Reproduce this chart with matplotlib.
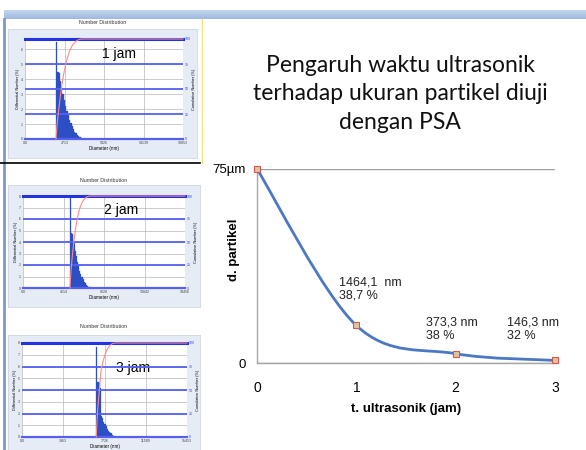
import numpy as np
import matplotlib.pyplot as plt
from matplotlib.path import Path
from matplotlib.patches import PathPatch

# data: main chart (plotted position of the points, in um)
waktu_jam = [0, 1, 2, 3]
d_partikel_um = [75, 14.5, 3.6, 1.0]
label_titik = [None, "1464,1  nm\n38,7 %", "373,3 nm\n38 %", "146,3 nm\n32 %"]
label_offset = [None, (-17, 49), (-30, 37), (-48, 44)]

# data: PSA number distribution insets
inset_label = ["1 jam", "2 jam", "3 jam"]
hist_1jam = [6.5, 4.5, 4.4, 3.9, 3.4, 3.0, 2.6, 2.2, 1.9, 1.6, 1.3, 1.05,
             0.85, 0.65, 0.5, 0.38, 0.28, 0.2, 0.12, 0.06]
hist_2jam = [7.8, 4.8, 4.7, 3.9, 3.2, 2.8, 2.3, 1.9, 1.5, 1.2, 0.95, 0.75,
             0.55, 0.4, 0.28, 0.18, 0.1, 0.05]
hist_3jam = [7.7, 4.7, 4.6, 4.2, 1.8, 1.6, 1.3, 1.1, 0.9, 0.7, 0.55, 0.4,
             0.3, 0.2, 0.12, 0.06]
hist_start_nm = [3695, 5352, 6954]
hist_bin_nm = [155, 130, 110]
hist_xmax_nm = [18853, 18456, 15453]
hist_ymax = [6.67, 8.0, 8.0]

W, H = 586, 450
fig = plt.figure(figsize=(W / 100, H / 100), dpi=100)
plt.rcParams['font.family'] = ['Liberation Sans', 'DejaVu Sans']


def px_axes(x0, y0, x1, y1, **kw):
    return fig.add_axes([x0 / W, 1 - y1 / H, (x1 - x0) / W, (y1 - y0) / H], **kw)


# background decorations (slide frame)
bg = px_axes(0, 0, W, H)
bg.set_xlim(0, W)
bg.set_ylim(H, 0)
bg.axis('off')
grad = np.linspace(0, 1, 20).reshape(-1, 1)
bg.imshow(grad, extent=(4, W, 19, 10), cmap=plt.matplotlib.colors.LinearSegmentedColormap.from_list(
    'band', ['#c4d6ee', '#9db9e1']), aspect='auto')
bg.plot([3.5, 3.5], [19, H], color='#7d98c9', lw=2)
bg.plot([0, 200], [163, 163], color='black', lw=1.2)
bg.plot([202, 202], [19, 163], color='#f3e27a', lw=1)

# inset layout (pixels)
panel_box = [(8, 29, 197, 158), (8, 185, 200, 307), (8, 335, 200, 450)]
plot_box = [(25, 39, 183, 139), (23, 196, 185, 288), (22, 343, 187, 437)]
title_y = [23, 180, 327]
label_pos = [(0.49, 0.85), (0.5, 0.85), (0.57, 0.73)]
hists = [hist_1jam, hist_2jam, hist_3jam]

for i in range(3):
    pb = panel_box[i]
    pan = px_axes(*pb)
    pan.set_facecolor('#e6ecf5')
    pan.set_xticks([])
    pan.set_yticks([])
    for s in pan.spines.values():
        s.set_color('#d0d6e0')
        s.set_linewidth(0.6)
    fig.text(((pb[0] + pb[2]) / 2) / W, 1 - title_y[i] / H, "Number Distribution",
             fontsize=3.8, ha='center', va='center', color='#333333')

    ax = px_axes(*plot_box[i])
    ax.set_facecolor('white')
    h = hists[i]
    edges = hist_start_nm[i] + hist_bin_nm[i] * np.arange(len(h) + 1)
    ax.bar(edges[:-1], h, width=hist_bin_nm[i], align='edge', color='#2d4fc4',
           edgecolor='#2d4fc4', lw=0.2, zorder=3)
    xmax = hist_xmax_nm[i]
    ax.set_xlim(0, xmax)
    ax.set_ylim(0, hist_ymax[i])
    xt = np.linspace(0, xmax, 5)
    ax.set_xticks(xt)
    ax.set_xticklabels(["0.0"] + ["%d" % v for v in xt[1:]])
    ax.set_yticks(range(int(hist_ymax[i]) + 1))
    ax.tick_params(labelsize=2.6, length=0, pad=1.5, colors='#444444')
    ax.grid(True, color='#b8b8b8', lw=0.5)
    ax.set_axisbelow(True)
    for s in ax.spines.values():
        s.set_visible(False)
    ax.set_xlabel("Diameter (nm)", fontsize=3.3, labelpad=1)
    ax.set_ylabel("Differential Number (%)", fontsize=2.8, labelpad=1)

    ax2 = ax.twinx()
    ax2.set_ylim(0, 100)
    ax2.set_yticks([0, 25, 50, 75, 100])
    ax2.tick_params(labelsize=2.6, length=0, pad=1.5, colors='#3344ee')
    ax2.set_ylabel("Cumulative Number (%)", fontsize=2.8, labelpad=1)
    for s in ax2.spines.values():
        s.set_visible(False)
    for lvl in [25, 50, 75]:
        ax2.axhline(lvl, color='#5560f2', lw=1.3, zorder=2)
    ax2.axhline(100, color='#2233e0', lw=2.2, zorder=2, clip_on=False)
    ax2.axhline(0, color='#5560f2', lw=1.6, zorder=2, clip_on=False)
    cum = np.cumsum(h) / np.sum(h) * 100
    cx = np.concatenate([[edges[0]], edges[1:], [xmax]])
    cy = np.concatenate([[0], cum, [100]])
    ax2.plot(cx, cy, color='#ff8a8a', lw=0.8, zorder=4, clip_on=False)
    ax.text(label_pos[i][0], label_pos[i][1], inset_label[i], transform=ax.transAxes,
            fontsize=10, ha='left', va='center', color='black', zorder=6)

# title
fig.text(400 / W, 1 - 94 / H,
         "Pengaruh waktu ultrasonik\nterhadap ukuran partikel diuji\ndengan PSA",
         fontsize=16.5, family=['Lato', 'DejaVu Sans'], ha='center', va='center',
         linespacing=1.45, color='#111111')

# main chart
ax = px_axes(257, 169, 555, 363)
ax.set_xlim(0, 3)
ax.set_ylim(0, 75)

# Excel-like smoothed line (cubic Bezier through the points)
pts = np.column_stack([waktu_jam, d_partikel_um]).astype(float)
verts = [pts[0]]
codes = [Path.MOVETO]
n = len(pts)
for k in range(n - 1):
    p_prev = pts[max(k - 1, 0)]
    p_next2 = pts[min(k + 2, n - 1)]
    c1 = pts[k] + (pts[k + 1] - p_prev) / 6
    c2 = pts[k + 1] - (p_next2 - pts[k]) / 6
    verts += [c1, c2, pts[k + 1]]
    codes += [Path.CURVE4] * 3
ax.add_patch(PathPatch(Path(verts, codes), fill=False, edgecolor='#4a78c2', lw=2,
                       zorder=3, clip_on=False))
ax.plot(waktu_jam, d_partikel_um, ls='none', marker='s', ms=5, mfc='#d8c8a0',
        mec='#d9534f', mew=0.8, zorder=4, clip_on=False)

for k in range(n):
    if label_titik[k]:
        ax.annotate(label_titik[k], (waktu_jam[k], d_partikel_um[k]),
                    xytext=label_offset[k], textcoords='offset pixels',
                    ha='left', va='top', fontsize=9, linespacing=1.15, color='#222222')

ax.set_xticks(waktu_jam)
ax.set_yticks([0, 75])
ax.set_yticklabels(["0", "75µm"])
ax.tick_params(axis='x', length=0, pad=13, labelsize=10)
ax.tick_params(axis='y', length=0, pad=8, labelsize=9.5)
ax.grid(axis='y', color='#a0a0a0', lw=1)
ax.set_axisbelow(True)
for s in ['top', 'right']:
    ax.spines[s].set_visible(False)
for s in ['left', 'bottom']:
    ax.spines[s].set_color('#a6a6a6')
    ax.spines[s].set_linewidth(1)
ax.set_xlabel("t. ultrasonik (jam)", fontsize=9.5, fontweight='bold', labelpad=6)
ax.set_ylabel("d. partikel", fontsize=9.5, fontweight='bold')
ax.yaxis.set_label_coords(-(257 - 240) / 298, (363 - 250) / 194)

fig.savefig("out.png", dpi=100)
